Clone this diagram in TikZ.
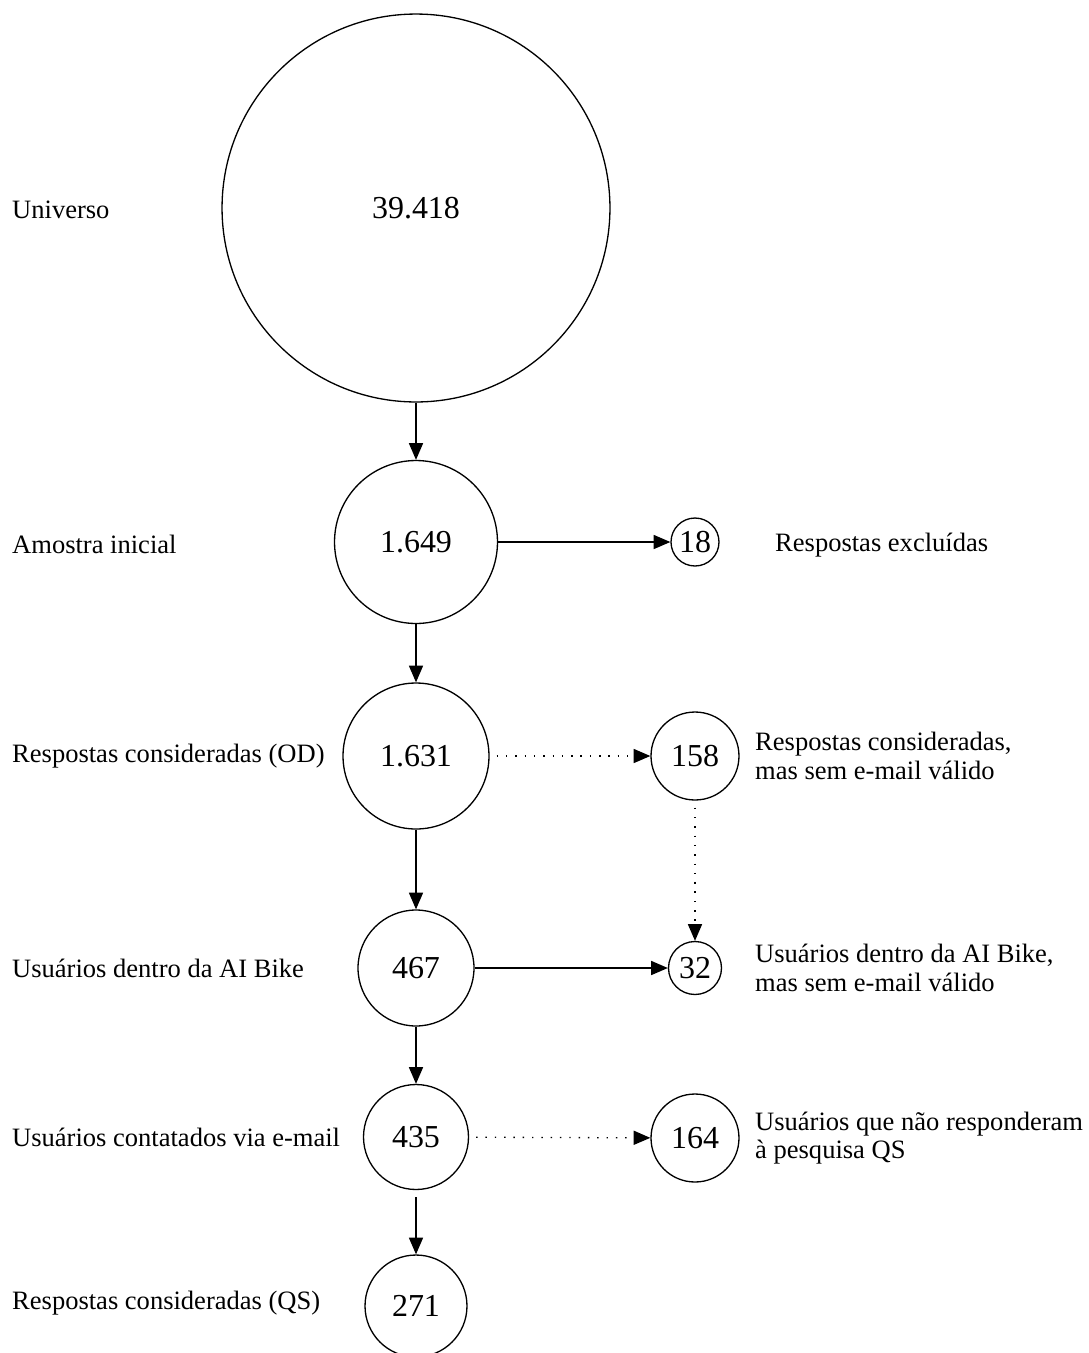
\documentclass[tikz,border=0pt]{standalone}
\usepackage{fontspec}
\setmainfont{Liberation Serif}
\usetikzlibrary{arrows.meta}

\tikzset{
	num/.style={draw, circle, inner sep=0pt, line width=0.75pt, font=\fontsize{18.2}{22}\selectfont},
	lbl/.style={anchor=west, align=left, font=\fontsize{15.1}{16.4}\selectfont},
	flow/.style={line width=0.75pt, -{Triangle[length=9.5pt,width=8pt]}},
	dots/.style={flow, dash pattern=on 0.8pt off 4.5pt, shorten <=4pt},
}

\begin{document}
\begin{tikzpicture}[x=0.02cm, y=-0.02cm]
	\useasboundingbox (0,0) rectangle (1089,1353);
	\clip (0,0) rectangle (1089,1353);
	% coluna principal
	\node[num, minimum size=7.76cm] (universo) at (416,208) {39.418};
	\node[num, minimum size=3.26cm] (amostra) at (416,542) {1.649};
	\node[num, minimum size=2.92cm] (od) at (416,756) {1.631};
	\node[num, minimum size=2.32cm] (aibike) at (416,968) {467};
	\node[num, minimum size=2.10cm] (contatados) at (416,1137) {435};
	\node[num, minimum size=2.04cm] (qs) at (416,1306) {271};
	% coluna da direita
	\node[num, minimum size=0.96cm] (excl) at (695,542) {18};
	\node[num, minimum size=1.76cm] (semmail) at (695,756) {158};
	\node[num, minimum size=1.06cm] (bikesemmail) at (695,968) {32};
	\node[num, minimum size=1.76cm] (naoresp) at (695,1138) {164};
	% textos
	\node[lbl] (tuniverso) at (6,210) {Universo};
	\node[lbl] (tamostra) at (6,544) {Amostra inicial};
	\node[lbl] (tod) at (6,756) {Respostas consideradas (OD)};
	\node[lbl] (taibike) at (6,968) {Usuários dentro da AI Bike};
	\node[lbl] (tcontatados) at (6,1137) {Usuários contatados via e-mail};
	\node[lbl] (tqs) at (6,1303) {Respostas consideradas (QS)};
	\node[lbl] (texcl) at (769,545) {Respostas excluídas};
	\node[lbl] (tsemmail) at (749,756) {Respostas consideradas,\\mas sem e-mail válido};
	\node[lbl] (tbikesemmail) at (749,968) {Usuários dentro da AI Bike,\\mas sem e-mail válido};
	\node[lbl] (tnaoresp) at (749,1138) {Usuários que não responderam\\à pesquisa QS};
	% setas
	\draw[flow] (universo) -- (amostra);
	\draw[flow] (amostra) -- (od);
	\draw[flow] (od) -- (aibike);
	\draw[flow] (aibike) -- (contatados);
	\draw[flow, shorten <=4pt] (contatados) -- (qs);
	\draw[flow] (amostra) -- (excl);
	\draw[flow] (aibike) -- (bikesemmail);
	\draw[dots] (od) -- (semmail);
	\draw[dots] (semmail) -- (bikesemmail);
	\draw[dots] (contatados) -- (naoresp);
\end{tikzpicture}
\end{document}
